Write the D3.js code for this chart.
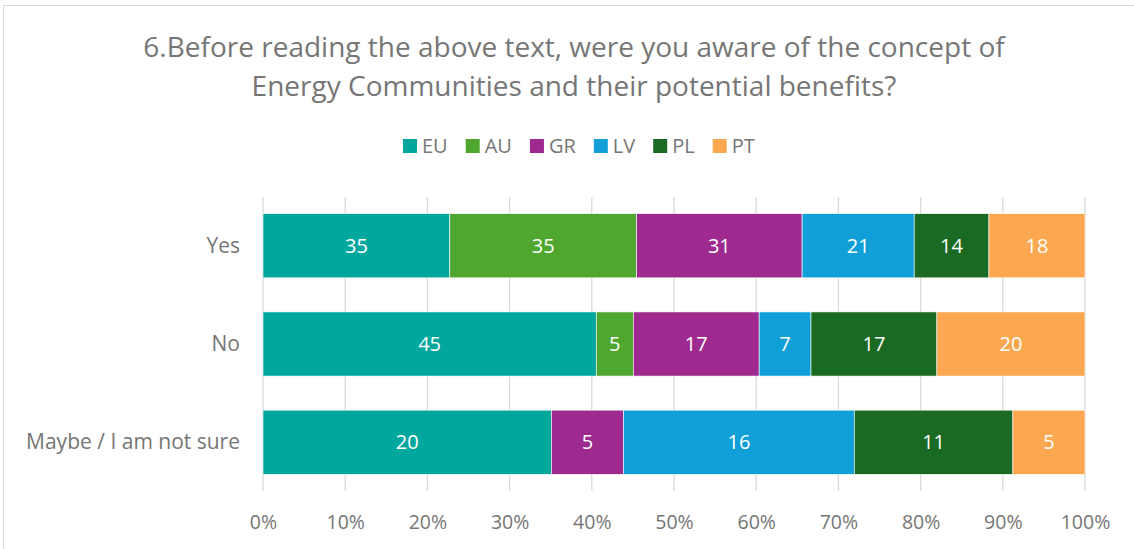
<!DOCTYPE html>
<html>
<head>
<meta charset="utf-8">
<script src="https://cdn.jsdelivr.net/npm/d3@7"></script>
<style>
  body { margin: 0; background: #fff; }
  svg { display: block; font-family: "Open Sans", "Noto Sans", sans-serif; }
</style>
</head>
<body>
<div id="chart"></div>
<script>
const categories = ['Yes', 'No', 'Maybe / I am not sure'];
const seriesNames = ['EU', 'AU', 'GR', 'LV', 'PL', 'PT'];
const seriesColors = ['#00a79d', '#4fa72f', '#9e2a8f', '#109fd7', '#1b6a23', '#fba851'];

// counts per answer, in series order
const EU = [35, 45, 20];
const AU = [35, 5, 0];
const GR = [31, 17, 5];
const LV = [21, 7, 16];
const PL = [14, 17, 11];
const PT = [18, 20, 5];

const titleLines = ['6.Before reading the above text, were you aware of the concept of',
                    'Energy Communities and their potential benefits?'];
const percentTicks = [0, 0.1, 0.2, 0.3, 0.4, 0.5, 0.6, 0.7, 0.8, 0.9, 1];

const w = 1134;
const h = 549;
const plotLeft = 263, plotRight = 1085, plotTop = 197, plotBottom = 491;
const textGray = '#767676';

const seriesValues = [EU, AU, GR, LV, PL, PT];

// build rows for d3.stack, normalized to shares
const rows = categories.map((c, i) => {
    const row = {cat: c};
    const total = d3.sum(seriesValues, (s) => s[i]);
    seriesNames.forEach((n, j) => {
        row[n] = seriesValues[j][i] / total;
        row[n + '_raw'] = seriesValues[j][i];
    });
    return row;
});

const stacked = d3.stack().keys(seriesNames)(rows);

const xScale = d3.scaleLinear().domain([0, 1]).range([plotLeft, plotRight]);
const yScale = d3.scaleBand().domain(categories).range([plotTop, plotBottom]).paddingInner(0.347).paddingOuter(0.17);

const svg = d3.select('#chart')
    .append('svg')
    .attr('width', w)
    .attr('height', h);

svg.append('rect')
    .attr('x', 3.5)
    .attr('y', 5.5)
    .attr('width', 1140)
    .attr('height', 560)
    .attr('fill', 'none')
    .attr('stroke', '#d9d9d9');

svg.selectAll('.title')
    .data(titleLines)
    .enter()
    .append('text')
    .attr('class', 'title')
    .attr('x', 574)
    .attr('y', (d, i) => 57 + i * 39)
    .attr('text-anchor', 'middle')
    .attr('font-size', 28)
    .attr('fill', textGray)
    .text((d) => d);

// legend, items laid out by their text width
const legend = svg.append('g').attr('transform', 'translate(403, 139)');
const legendItem = legend.selectAll('g')
    .data(seriesNames)
    .enter()
    .append('g');

legendItem.append('rect')
    .attr('width', 14)
    .attr('height', 14)
    .attr('fill', (d, i) => seriesColors[i]);

legendItem.append('text')
    .attr('x', 19)
    .attr('y', 14)
    .attr('font-size', 20)
    .attr('fill', textGray)
    .text((d) => d);

let lx = 0;
legendItem.each(function () {
    d3.select(this).attr('transform', `translate(${lx}, 0)`);
    lx += 19 + this.querySelector('text').getComputedTextLength() + 18;
});

// gridlines
svg.append('g')
    .selectAll('line')
    .data(percentTicks)
    .enter()
    .append('line')
    .attr('x1', (d) => xScale(d))
    .attr('x2', (d) => xScale(d))
    .attr('y1', plotTop)
    .attr('y2', plotBottom)
    .attr('stroke', '#d9d9d9')
    .attr('stroke-width', 1.3);

// bars
const layer = svg.selectAll('.layer')
    .data(stacked)
    .enter()
    .append('g')
    .attr('class', 'layer')
    .attr('fill', (d, i) => seriesColors[i]);

layer.selectAll('rect')
    .data((d) => d.map((p) => ({p: p, key: d.key})))
    .enter()
    .filter((d) => d.p[1] > d.p[0])
    .append('rect')
    .attr('x', (d) => xScale(d.p[0]))
    .attr('y', (d) => yScale(d.p.data.cat))
    .attr('width', (d) => xScale(d.p[1]) - xScale(d.p[0]))
    .attr('height', yScale.bandwidth())
    .attr('stroke', '#ffffff')
    .attr('stroke-width', 0.6);

layer.selectAll('text')
    .data((d) => d.map((p) => ({p: p, key: d.key})))
    .enter()
    .filter((d) => d.p[1] > d.p[0])
    .append('text')
    .attr('x', (d) => (xScale(d.p[0]) + xScale(d.p[1])) / 2)
    .attr('y', (d) => yScale(d.p.data.cat) + yScale.bandwidth() / 2)
    .attr('dy', '0.36em')
    .attr('text-anchor', 'middle')
    .attr('font-size', 20)
    .attr('fill', '#ffffff')
    .text((d) => d.p.data[d.key + '_raw']);

// category axis
const yAxis = d3.axisLeft(yScale).tickSize(0).tickPadding(23);
const yG = svg.append('g')
    .attr('transform', `translate(${plotLeft}, 0)`)
    .call(yAxis);
yG.select('.domain').remove();
yG.selectAll('text')
    .attr('font-size', 21)
    .attr('font-family', '"Open Sans", "Noto Sans", sans-serif')
    .attr('fill', textGray);

// percent axis
const xAxis = d3.axisBottom(xScale).tickValues(percentTicks).tickFormat(d3.format('.0%')).tickSize(0).tickPadding(24);
const xG = svg.append('g')
    .attr('transform', `translate(0, ${plotBottom})`)
    .call(xAxis);
xG.select('.domain').remove();
xG.selectAll('text')
    .attr('font-size', 19.5)
    .attr('font-family', '"Open Sans", "Noto Sans", sans-serif')
    .attr('fill', textGray);
</script>
</body>
</html>
